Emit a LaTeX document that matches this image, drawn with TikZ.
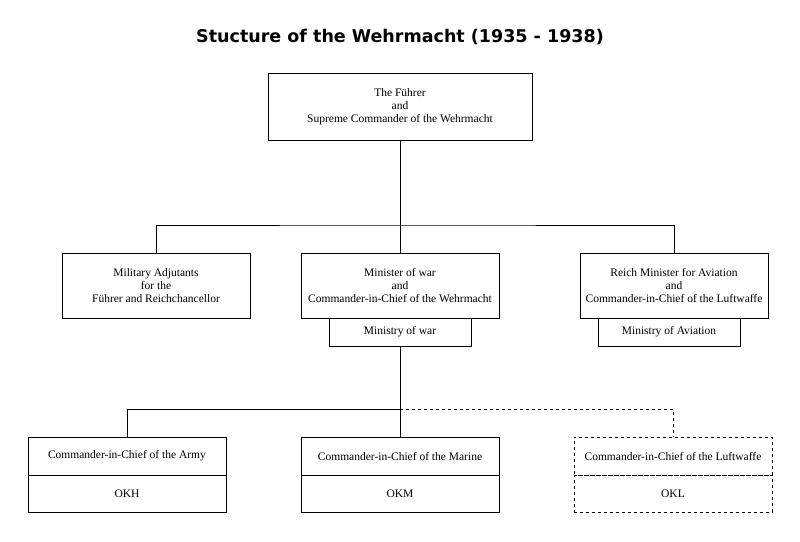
\documentclass[tikz,border=0pt]{standalone}
\usepackage{fontspec}
\setmainfont{Liberation Serif}
\newfontfamily\titlefont{DejaVu Sans}
\begin{document}
\begin{tikzpicture}[x=1pt,y=-1pt,
  bx/.style={draw,line width=1pt,align=center,font=\fontsize{11.5}{13}\selectfont,inner sep=0pt},
  ln/.style={line width=1pt}]
\useasboundingbox (0,0) rectangle (800,541);
\node[font=\titlefont\bfseries\fontsize{17.5}{20}\selectfont] (title) at (400,37) {Stucture of the Wehrmacht (1935 - 1938)};
\node[bx,minimum width=264,minimum height=67] (top) at (400,106.5) {The Führer\\and\\Supreme Commander of the Wehrmacht};
\node[bx,minimum width=188,minimum height=65] (adj) at (156,285.5) {Military Adjutants\\for the\\Führer and Reichchancellor};
\node[bx,minimum width=198,minimum height=65] (war) at (400,285.5) {Minister of war\\and\\Commander-in-Chief of the Wehrmacht};
\node[bx,minimum width=142,minimum height=28] (mwar) at (400,332) {Ministry of war};
\node[bx,minimum width=188,minimum height=65] (air) at (674,285.5) {Reich Minister for Aviation\\and\\Commander-in-Chief of the Luftwaffe};
\node[bx,minimum width=142,minimum height=28] (mair) at (669,332) {Ministry of Aviation};
\node[bx,minimum width=198,minimum height=38] (army) at (127,456) {Commander-in-Chief of the Army};
\node[bx,minimum width=198,minimum height=37] (okh) at (127,493.5) {OKH};
\node[bx,minimum width=198,minimum height=38] (mar) at (400,456) {Commander-in-Chief of the Marine};
\node[bx,minimum width=198,minimum height=37] (okm) at (400,493.5) {OKM};
\node[bx,dashed,minimum width=198,minimum height=38] (luf) at (673,456) {Commander-in-Chief of the Luftwaffe};
\node[bx,dashed,minimum width=198,minimum height=37] (okl) at (673,493.5) {OKL};
\coordinate (j1) at (400,225);
\coordinate (j2) at (400,409);
\draw[ln] (top.south) -- (war.north);
\draw[ln] (adj.north) |- (j1) -| (air.north);
\draw[ln] (mwar.south) -- (mar.north);
\draw[ln] (army.north) |- (j2);
\draw[ln,dashed] (j2) -| (luf.north);
\end{tikzpicture}
\end{document}
